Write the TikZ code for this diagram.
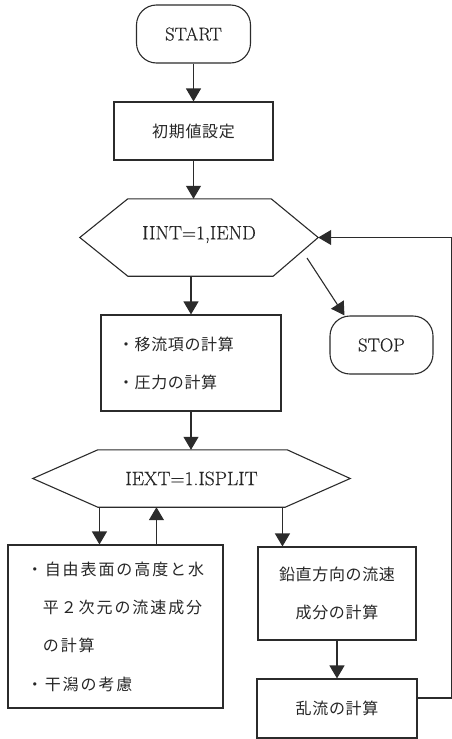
\documentclass[tikz,border=0pt]{standalone}
\usepackage{fontspec}
\setmainfont{Latin Modern Roman}[FakeBold=0.4]
\newfontfamily\cjk[LetterSpace=4]{Noto Sans CJK JP}
\newfontfamily\cjkw[LetterSpace=12]{Noto Sans CJK JP}
\usetikzlibrary{arrows.meta,calc}
\definecolor{lc}{HTML}{2B2B2B}
\definecolor{tc}{HTML}{262626}
\begin{document}
\begin{tikzpicture}[x=1pt,y=-1pt,
  ln/.style={draw=lc,line width=1.1pt},
  term/.style={ln,rounded corners=20pt,minimum height=58pt,inner sep=0pt,text=tc,font=\fontsize{18.5}{22}\selectfont},
  proc/.style={ln,inner sep=0pt,text=tc,font=\cjk\fontsize{16}{38}\selectfont},
  hexnode/.style={inner sep=0pt,text=tc,font=\fontsize{19.5}{22}\selectfont},
  arr/.style={draw=lc,line width=1.1pt,-{Triangle[width=15pt,length=13pt,fill=lc]}}]
\useasboundingbox (0,0) rectangle (452,739);
% nodes
\node[term,minimum width=114pt] (start) at (193.5,34) {\raisebox{-6pt}{START}};
\node[proc,minimum width=159pt,minimum height=58pt] (init) at (193.5,131) {初期値設定};
\node[hexnode,minimum width=238pt,minimum height=77pt] (hexA) at (199,237.5) {\raisebox{9.5pt}{IINT=1,IEND}};
\draw[ln] (hexA.west) -- ($(hexA.north west)+(48,0)$) -- ($(hexA.north east)+(-47,0)$) -- (hexA.east)
  -- ($(hexA.south east)+(-45,0)$) -- ($(hexA.south west)+(48,0)$) -- cycle;
\node[term,minimum width=103pt] (stop) at (381.5,345) {\raisebox{-5.5pt}{STOP}};
\node[proc,minimum width=180pt,minimum height=96pt,text width=146pt,align=left] (yi) at (191,363) {・移流項の計算\\・圧力の計算};
\node[hexnode,minimum width=317pt,minimum height=57pt] (hexB) at (191.5,478.5) {IEXT=1.ISPLIT};
\draw[ln] (hexB.west) -- ($(hexB.north west)+(65,0)$) -- ($(hexB.north east)+(-63,0)$) -- (hexB.east)
  -- ($(hexB.south east)+(-65,0)$) -- ($(hexB.south west)+(65,0)$) -- cycle;
\node[proc,font=\cjkw\fontsize{16}{38.3}\selectfont,minimum width=215pt,minimum height=163pt,align=left] (lb) at (115.5,626.5)
  {・自由表面の高度と水\\\hphantom{・}平２次元の流速成分\\\hphantom{・}の計算\\・干潟の考慮};
\node[proc,minimum width=158pt,minimum height=93pt,align=center] (vc) at (337,593.5) {鉛直方向の流速\\成分の計算};
\node[proc,minimum width=160pt,minimum height=59pt] (ran) at (337,708.5) {乱流の計算};
% connectors
\draw[arr] (start.south) -- (init.north);
\draw[arr] (init.south) -- (init.south |- hexA.north);
\draw[arr] (hexA.south -| yi.north) -- (yi.north);
\draw[arr] (yi.south) -- (yi.south |- hexB.north);
\coordinate (d1) at ($(lb.north west)+(92,0)$);
\coordinate (u1) at ($(lb.north west)+(149,0)$);
\coordinate (d2) at ($(vc.north west)+(25,0)$);
\draw[arr] (hexB.south -| d1) -- (d1);
\draw[arr] (u1) -- (u1 |- hexB.south);
\draw[arr] (hexB.south -| d2) -- (d2);
\draw[arr] (vc.south) -- (ran.north);
\coordinate (s0) at (307,258);
\draw[arr] (s0) -- ($(stop.north west)+(15,0)$);
\draw[arr] ($(ran.east)+(0,-10.5)$) -- ++(34,0) |- (hexA.east);
\end{tikzpicture}
\end{document}
